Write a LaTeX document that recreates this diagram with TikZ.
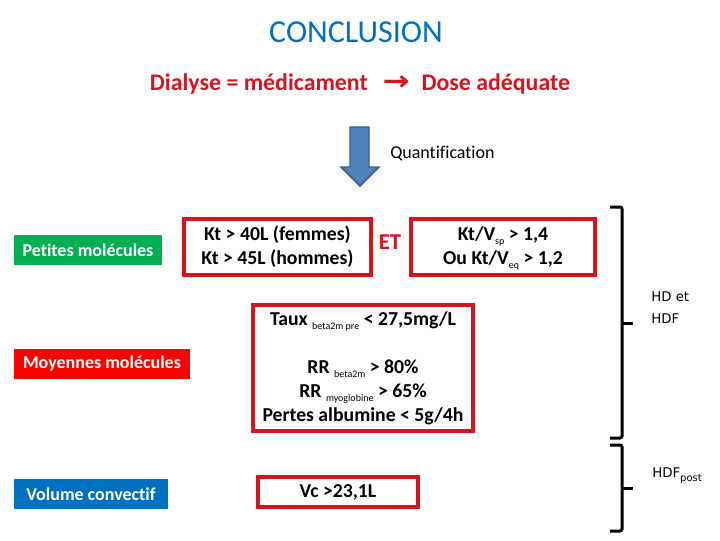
\documentclass[tikz,border=0pt]{standalone}
\usepackage{fontspec}
\setmainfont{Carlito}[Ligatures=NoCommon]
\newfontfamily\dejavu{DejaVu Sans}
\usetikzlibrary{positioning}
\definecolor{ccblue}{HTML}{0070C0}
\definecolor{ccred}{HTML}{D7141E}
\definecolor{ccbright}{HTML}{FF0000}
\definecolor{ccgreen}{HTML}{00B050}
\definecolor{ccarrow}{HTML}{4F81BD}
\definecolor{ccarrowdk}{HTML}{385D8A}
\newcommand\lowtext[1]{\raisebox{-0.45ex}[0pt][0pt]{\fontsize{7.5}{7.5}\mdseries\selectfont #1}}
\tikzset{
  critBox/.style={draw=ccred, line width=3pt, fill=white, align=center, inner sep=0pt, font=\bfseries\fontsize{14.8}{18}\selectfont},
  tagBox/.style={text=white, inner sep=0pt, minimum height=22.5pt, font=\bfseries\fontsize{13.5}{16}\selectfont},
  sideLabel/.style={anchor=west, align=left, inner sep=0pt, font=\dejavu\fontsize{10}{16.5}\selectfont},
  bracket/.style={line width=2.25pt, rounded corners=1.5pt}
}

\begin{document}
\begin{tikzpicture}[x=0.75pt, y=-0.75pt]
  \useasboundingbox (0,0) rectangle (720,540);
  % headings
  \node[text=ccblue, font=\fontsize{24}{28}\selectfont] (title) at (356,32) {CONCLUSION};
  \node[text=ccred, font=\bfseries\fontsize{17.9}{21}\selectfont] (subtitle) at (360,84)
    {Dialyse = médicament\hspace{11pt}\scalebox{1.35}[1.15]{\dejavu\bfseries →}\hspace{9pt}Dose adéquate};
  \draw[fill=ccarrow, draw=ccarrowdk, line width=1.1pt]
    (350,127) -- (369,127) -- (369,167) -- (379,167) -- (360,186) -- (341,167) -- (350,167) -- cycle;
  \node[font=\fontsize{13.5}{16}\selectfont, anchor=west, inner sep=0pt] (quant) at (390,153) {Quantification};
  % categories
  \node[tagBox, fill=ccgreen, minimum width=111pt] (petites) at (88,250) {Petites molécules};
  \node[tagBox, fill=ccbright, minimum width=132pt] (moyennes) at (102,363.5) {Moyennes molécules};
  \node[tagBox, fill=ccblue, minimum width=115.5pt] (volume) at (91,494) {Volume convectif};
  % targets
  \node[critBox, minimum width=140.25pt, minimum height=42pt] (ktLim) at (277.5,247)
    {Kt > 40L (femmes)\\Kt > 45L (hommes)};
  \node[text=ccred, font=\bfseries\fontsize{17}{20}\selectfont] (et) at (390,242) {ET};
  \node[critBox, minimum width=138pt, minimum height=42pt] (ktvLim) at (503,247)
    {Kt/V\lowtext{sp} > 1,4\\Ou Kt/V\lowtext{eq} > 1,2};
  \node[critBox, minimum width=165pt, minimum height=94.5pt] (betaLim) at (363,368)
    {Taux \lowtext{beta2m pre} < 27,5mg/L\\[18pt]RR \lowtext{beta2m} > 80\%\\RR \lowtext{myoglobine} > 65\%\\Pertes albumine < 5g/4h};
  \node[critBox, minimum width=120pt, minimum height=22.5pt] (vcLim) at (338,492) {Vc >23,1L};
  % brackets
  \draw[bracket] (610,207) -- (622,207) -- (622,438) -- (610,438);
  \draw[bracket] (622,323) -- (633,323);
  \draw[bracket] (610,445) -- (622,445) -- (622,531) -- (610,531);
  \draw[bracket] (622,488) -- (633,488);
  \node[sideLabel] (hdLabel) at (651,308) {HD et\\HDF};
  \node[sideLabel] (hdfLabel) at (652,473) {HDF\lowtext{post}};
\end{tikzpicture}
\end{document}
